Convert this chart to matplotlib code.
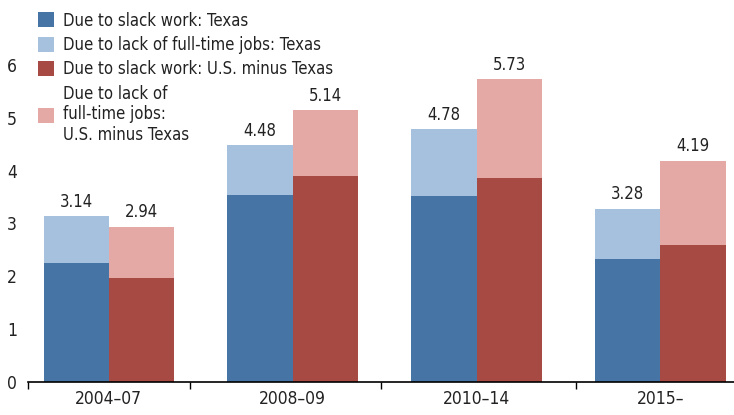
import numpy as np
import matplotlib.pyplot as plt

plt.rcParams['font.family'] = ['DejaVu Sans']
plt.rcParams['font.stretch'] = 'condensed'

periods = ["2004\u201307", "2008\u201309", "2010\u201314", "2015\u2013"]
tx_slack = [2.25, 3.54, 3.52, 2.33]
tx_total = [3.14, 4.48, 4.78, 3.28]
us_slack = [1.97, 3.90, 3.86, 2.59]
us_total = [2.94, 5.14, 5.73, 4.19]

tx_lack = [t - s for t, s in zip(tx_total, tx_slack)]
us_lack = [t - s for t, s in zip(us_total, us_slack)]

c_tx_dark = "#4674a4"
c_tx_light = "#a5c1de"
c_us_dark = "#a74a44"
c_us_light = "#e4a8a5"

fig = plt.figure(figsize=(7.34, 4.15), dpi=100)
ax = fig.add_axes([0.038, 0.08, 0.962, 0.916])

x = np.arange(len(periods))
w = 0.355

ax.bar(x - w / 2, tx_slack, w, color=c_tx_dark, label="Due to slack work: Texas")
ax.bar(x - w / 2, tx_lack, w, bottom=tx_slack, color=c_tx_light,
       label="Due to lack of full-time jobs: Texas")
ax.bar(x + w / 2, us_slack, w, color=c_us_dark,
       label="Due to slack work: U.S. minus Texas")
ax.bar(x + w / 2, us_lack, w, bottom=us_slack, color=c_us_light,
       label="Due to lack of\nfull-time jobs:\nU.S. minus Texas")

# totals above each stacked bar
for xi, t in zip(x - w / 2, tx_total):
    ax.text(xi, t + 0.1, f"{t:.2f}", ha="center", va="bottom", fontsize=12, color="#222222")
for xi, t in zip(x + w / 2, us_total):
    ax.text(xi, t + 0.1, f"{t:.2f}", ha="center", va="bottom", fontsize=12, color="#222222")

ax.set_yticks(range(0, 7))
ax.set_xticks(x)
ax.set_xticklabels(periods)
ax.set_xticks([-0.44, 0.44, 1.48, 2.54], minor=True)
ax.set_xlim(-0.44, 3.40)
ax.set_ylim(0, 7.2)
ax.tick_params(axis="y", length=0, labelsize=12.5, pad=8, labelcolor="#222222")
ax.tick_params(axis="x", which="major", length=0, labelsize=12.5, pad=6, labelcolor="#222222")
ax.tick_params(axis="x", which="minor", length=5, width=1, direction="out")

for s in ["top", "right", "left"]:
    ax.spines[s].set_visible(False)
ax.spines["bottom"].set_linewidth(1.2)

leg = ax.legend(loc="upper left", bbox_to_anchor=(0.0, 1.0), frameon=False, fontsize=12,
                handlelength=0.95, handleheight=1.0, handletextpad=0.55,
                labelspacing=0.38, borderaxespad=0.2)
for t in leg.get_texts():
    t.set_color("#222222")

fig.savefig("out.png", dpi=100)
